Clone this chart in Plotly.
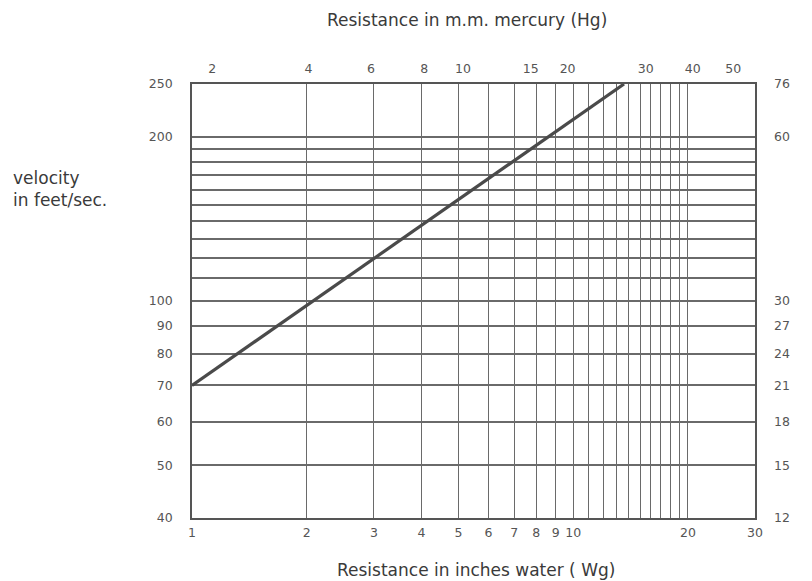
import math
import plotly.graph_objects as go

# ---- data ----
x_grid = [1, 2, 3, 4, 5, 6, 7, 8, 9, 10, 11, 12, 13, 14, 15, 16, 17, 18, 19, 20, 30]
x_labels = ["1", "2", "3", "4", "5", "6", "7", "8", "9", "10",
            "", "", "", "", "", "", "", "", "", "20", "30"]

y_grid = [40, 50, 60, 70, 80, 90, 100, 110, 120, 130, 140, 150, 160, 170, 180, 190, 200, 250]
y_labels = ["40", "50", "60", "70", "80", "90", "100",
            "", "", "", "", "", "", "", "", "", "200", "250"]

right_vals = [40, 50, 60, 70, 80, 90, 100, 200, 250]
right_labels = ["12", "15", "18", "21", "24", "27", "30", "60", "76"]

# top axis: mm mercury labels, positions expressed in inches water (as read)
top_pos_wg = [1.13, 2.02, 2.95, 4.07, 5.14, 7.74, 9.67, 15.5, 20.6, 26.3]
top_labels = ["2", "4", "6", "8", "10", "15", "20", "30", "40", "50"]

line_x = [1, 13.6]
line_y = [70, 250]

X_MIN, X_MAX = 1, 30
Y_MIN, Y_MAX = 40, 250

tick_font = dict(family="DejaVu Sans", size=12.5, color="#555")
grid_col = "#6a6a6a"

fig = go.Figure()
fig.add_trace(go.Scatter(x=line_x, y=line_y, mode="lines",
                         line=dict(color="#4a4a4a", width=3.2),
                         showlegend=False, hoverinfo="skip"))
fig.add_trace(go.Scatter(x=[X_MIN], y=[Y_MIN], xaxis="x2", yaxis="y2",
                         mode="markers", marker=dict(opacity=0),
                         showlegend=False, hoverinfo="skip"))

xr = [math.log10(X_MIN), math.log10(X_MAX)]
yr = [math.log10(Y_MIN), math.log10(Y_MAX)]

fig.update_layout(
    width=812, height=581,
    margin=dict(l=184, r=65, t=76, b=71),
    paper_bgcolor="white", plot_bgcolor="white",
    xaxis=dict(type="log", range=xr, tickmode="array", tickvals=x_grid, ticktext=x_labels,
               showgrid=True, gridcolor=grid_col, gridwidth=1.3, ticks="",
               ticklabelstandoff=2, tickfont=tick_font,
               showline=True, linecolor="#555", linewidth=1.6, mirror=True, zeroline=False),
    yaxis=dict(type="log", range=yr, tickmode="array", tickvals=y_grid, ticktext=y_labels,
               showgrid=True, gridcolor=grid_col, gridwidth=1.6, ticks="",
               ticklabelstandoff=15, tickfont=tick_font,
               showline=True, linecolor="#555", linewidth=1.6, mirror=True, zeroline=False),
    xaxis2=dict(type="log", range=xr, overlaying="x", side="top", anchor="y",
                tickmode="array", tickvals=top_pos_wg, ticktext=top_labels,
                showgrid=False, ticks="", ticklabelstandoff=8, tickfont=tick_font,
                showline=False, zeroline=False),
    yaxis2=dict(type="log", range=yr, overlaying="y", side="right", anchor="x",
                tickmode="array", tickvals=right_vals, ticktext=right_labels,
                showgrid=False, ticks="", ticklabelstandoff=18, tickfont=tick_font,
                showline=False, zeroline=False),
    showlegend=False,
)

title_font = dict(family="DejaVu Sans", size=17, color="#3a3a3a")
fig.add_annotation(text="Resistance in m.m. mercury (Hg)", xref="paper", yref="paper",
                   x=0.488, y=1.148, xanchor="center", yanchor="middle",
                   showarrow=False, font=title_font)
fig.add_annotation(text="Resistance in inches water ( Wg)", xref="paper", yref="paper",
                   x=0.505, y=-0.12, xanchor="center", yanchor="middle",
                   showarrow=False, font=title_font)
fig.add_annotation(text="velocity<br>in feet/sec.", xref="paper", yref="paper",
                   x=-0.322, y=0.757, xanchor="left", yanchor="middle", align="left",
                   showarrow=False, font=title_font)

fig.write_html("out.html")
